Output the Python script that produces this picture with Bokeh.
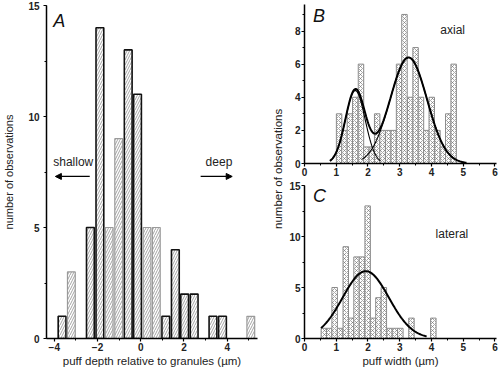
import numpy as np
from bokeh.plotting import figure
from bokeh.layouts import row, column
from bokeh.models import (Label, Arrow, NormalHead, SingleIntervalTicker,
                          Range1d, ColumnDataSource)
from bokeh.embed import file_html
from bokeh.resources import INLINE

# ---------------- data ----------------
# Panel A: puff depth relative to granules (um)
a_centers = [-3.64, -3.21, -2.33, -1.89, -1.46, -1.02, -0.58, -0.15, 0.29,
             0.72, 1.16, 1.60, 2.03, 2.47, 3.34, 3.78, 5.09]
a_counts = [1, 3, 5, 14, 5, 9, 13, 11, 5, 5, 1, 4, 2, 2, 1, 1, 1]
a_edge_dark = [1, 0, 1, 1, 0, 0, 1, 1, 0, 0, 1, 1, 1, 1, 1, 1, 0]
a_bin_width = 0.36

# Panel B: axial puff width (um)
b_centers = [1.09, 1.26, 1.43, 1.60, 1.78, 1.95, 2.12, 2.29, 2.46, 2.64, 2.81,
             2.98, 3.15, 3.33, 3.50, 3.67, 3.84, 4.01, 4.19, 4.36, 4.53, 4.70]
b_counts = [3, 2, 3, 4, 6, 1, 1, 3, 2, 2, 2, 6, 9, 4, 7, 4, 2, 4, 2, 1, 3, 6]
b_bin_width = 0.172
# two-Gaussian fit (amplitude, mean, sd, drawn range)
b_fit_amp = [4.4, 6.4]
b_fit_mean = [1.60, 3.28]
b_fit_sd = [0.31, 0.58]
b_fit_lo = [0.80, 1.80]
b_fit_hi = [2.40, 5.10]

# Panel C: lateral puff width (um)
c_centers = [0.61, 0.78, 0.95, 1.12, 1.30, 1.47, 1.64, 1.81, 1.99, 2.16, 2.33,
             2.50, 2.68, 2.85, 3.02, 3.37, 4.06]
c_counts = [1, 1, 5, 1, 9, 2, 8, 8, 13, 2, 4, 5, 1, 1, 1, 2, 2]
c_bin_width = 0.172
c_fit_amp = 6.6
c_fit_mean = 1.93
c_fit_sd = 0.73
c_fit_lo = 0.52
c_fit_hi = 3.85

FONT = "Liberation Sans"


def style(p, xint, yint):
    p.outline_line_color = None
    p.grid.visible = False
    p.background_fill_color = "white"
    p.border_fill_color = "white"
    p.xaxis.ticker = SingleIntervalTicker(interval=xint, num_minor_ticks=2)
    p.yaxis.ticker = SingleIntervalTicker(interval=yint, num_minor_ticks=2)
    for ax in p.axis:
        ax.axis_line_color = "black"
        ax.axis_line_width = 1.5
        ax.major_tick_line_color = "black"
        ax.major_tick_line_width = 1.2
        ax.minor_tick_line_color = "black"
        ax.major_tick_out = 3
        ax.major_tick_in = 0
        ax.minor_tick_out = 2
        ax.minor_tick_in = 0
        ax.major_label_text_font = FONT
        ax.major_label_text_font_size = "10px"
        ax.major_label_text_font_style = "bold"
        ax.major_label_text_color = "#222222"
        ax.major_label_standoff = 1
        ax.axis_label_text_font = FONT
        ax.axis_label_text_font_size = "11.5px"
        ax.axis_label_text_font_style = "normal"
        ax.axis_label_text_color = "#222222"
        ax.axis_label_standoff = 1


# ---------------- Panel A ----------------
pa = figure(width=270, height=369, x_range=Range1d(-4.36, 5.4),
            y_range=Range1d(0, 15), min_border_left=43, min_border_right=13,
            min_border_top=5, min_border_bottom=31,
            output_backend="svg", toolbar_location=None)
style(pa, 2, 5)
pa.xaxis.axis_label = "puff depth relative to granules (\u00b5m)"
pa.yaxis.axis_label = "number of observations"
pa.yaxis.axis_label_text_font_size = "11px"
pa.yaxis.major_label_standoff = 4
pa.yaxis.axis_label_standoff = 10

src_a = ColumnDataSource(dict(
    x=a_centers, top=a_counts,
    edge=["#111111" if d else "#9a9a9a" for d in a_edge_dark],
    lw=[1.6 if d else 1.2 for d in a_edge_dark]))
pa.vbar(x="x", top="top", bottom=0, width=a_bin_width, source=src_a,
        fill_color="white", line_color="edge", line_width="lw",
        hatch_pattern="/", hatch_color="#666666", hatch_scale=5,
        hatch_weight=0.6)

pa.add_layout(Label(x=-4.05, y=14.75, text="A", text_font=FONT,
                    text_font_style="italic", text_font_size="18px",
                    text_baseline="top", text_color="#111111"))
pa.add_layout(Label(x=-4.05, y=7.93, text="shallow", text_font=FONT,
                    text_font_size="12px", text_baseline="middle",
                    text_color="#222222"))
pa.add_layout(Label(x=3.0, y=7.93, text="deep", text_font=FONT,
                    text_font_size="12px", text_baseline="middle",
                    text_color="#222222"))
pa.add_layout(Arrow(end=NormalHead(size=6, fill_color="black",
                                   line_color="black"),
                    x_start=-2.36, y_start=7.3, x_end=-3.95, y_end=7.3,
                    line_width=1.2, line_color="black"))
pa.add_layout(Arrow(end=NormalHead(size=6, fill_color="black",
                                   line_color="black"),
                    x_start=2.77, y_start=7.3, x_end=4.23, y_end=7.3,
                    line_width=1.2, line_color="black"))

# ---------------- shared y label for B and C ----------------
pl = figure(width=16, height=369, x_range=Range1d(0, 1),
            y_range=Range1d(0, 369), min_border=0, x_axis_type=None,
            y_axis_type=None, output_backend="svg", toolbar_location=None)
pl.outline_line_color = None
pl.add_layout(Label(x=0.44, y=188, text="number of observations",
                    text_font=FONT, text_font_size="11.5px", angle=np.pi / 2,
                    text_align="center", text_baseline="middle",
                    text_color="#222222"))

# ---------------- Panel B ----------------
pb = figure(width=214, height=180, x_range=Range1d(0, 6.05),
            y_range=Range1d(0, 9.6), min_border_left=17, min_border_right=4,
            min_border_top=4, min_border_bottom=17,
            output_backend="svg", toolbar_location=None)
style(pb, 1, 2)
src_b = ColumnDataSource(dict(x=b_centers, top=b_counts))
pb.vbar(x="x", top="top", bottom=0, width=b_bin_width, source=src_b,
        fill_color="white", line_color="#8a8a8a", line_width=1,
        hatch_pattern="x", hatch_color="#6a6a6a", hatch_scale=4,
        hatch_weight=0.6)
bx_all = np.linspace(b_fit_lo[0], b_fit_hi[1], 200)
for k in range(2):
    xs = np.linspace(b_fit_lo[k], b_fit_hi[k], 120)
    ys = b_fit_amp[k] * np.exp(-0.5 * ((xs - b_fit_mean[k]) / b_fit_sd[k]) ** 2)
    pb.line(xs, ys, line_color="black", line_width=1.1)
total = sum(b_fit_amp[k] * np.exp(-0.5 * ((bx_all - b_fit_mean[k]) / b_fit_sd[k]) ** 2)
            for k in range(2))
pb.line(bx_all, total, line_color="black", line_width=2)
pb.add_layout(Label(x=0.27, y=9.5, text="B", text_font=FONT,
                    text_font_style="italic", text_font_size="18px",
                    text_baseline="top", text_color="#111111"))
pb.add_layout(Label(x=4.28, y=8.04, text="axial", text_font=FONT,
                    text_font_size="12px", text_baseline="middle",
                    text_color="#222222"))

# ---------------- Panel C ----------------
pc = figure(width=214, height=189, x_range=Range1d(0, 6.05),
            y_range=Range1d(0, 15), min_border_left=17, min_border_right=4,
            min_border_top=5, min_border_bottom=31,
            output_backend="svg", toolbar_location=None)
style(pc, 1, 5)
pc.xaxis.axis_label = "puff width (\u00b5m)"
src_c = ColumnDataSource(dict(x=c_centers, top=c_counts))
pc.vbar(x="x", top="top", bottom=0, width=c_bin_width, source=src_c,
        fill_color="white", line_color="#8a8a8a", line_width=1,
        hatch_pattern="x", hatch_color="#6a6a6a", hatch_scale=4,
        hatch_weight=0.6)
cx = np.linspace(c_fit_lo, c_fit_hi, 150)
cy = c_fit_amp * np.exp(-0.5 * ((cx - c_fit_mean) / c_fit_sd) ** 2)
pc.line(cx, cy, line_color="black", line_width=2)
pc.add_layout(Label(x=0.27, y=15, text="C", text_font=FONT,
                    text_font_style="italic", text_font_size="18px",
                    text_baseline="top", text_color="#111111"))
pc.add_layout(Label(x=4.13, y=10.2, text="lateral", text_font=FONT,
                    text_font_size="12px", text_baseline="middle",
                    text_color="#222222"))

layout = row(pa, pl, column(pb, pc))
open("out.html", "w").write(file_html(layout, INLINE))
